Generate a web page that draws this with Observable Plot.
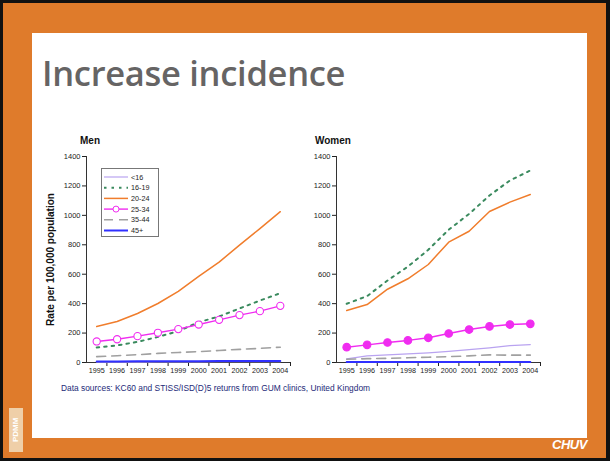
<!DOCTYPE html>
<html><head><meta charset="utf-8">
<script src="https://cdn.jsdelivr.net/npm/d3@7"></script>
<script src="https://cdn.jsdelivr.net/npm/@observablehq/plot@0.6"></script>
<style>
html,body{margin:0;padding:0;width:610px;height:461px;overflow:hidden;background:#111;}
#frame{position:absolute;left:3px;top:3px;width:603px;height:455px;background:#DF7B2B;}
#panel{position:absolute;left:32px;top:33px;width:555px;height:405px;background:#fff;}
#title{position:absolute;left:42px;top:52px;font-family:"Open Sans",Lato,sans-serif;font-weight:600;font-size:34.5px;letter-spacing:-0.3px;color:#666464;white-space:nowrap;line-height:1.2;}
.ctitle{position:absolute;font-family:"Liberation Sans",Arial,sans-serif;font-weight:700;font-size:10px;color:#111;}
.chart{position:absolute;top:130px;}
#caption{position:absolute;left:61px;top:383px;font-family:"Liberation Sans",Arial,sans-serif;font-size:8.4px;color:#1d2a78;white-space:nowrap;}
#pdmm{position:absolute;left:9px;top:408px;width:14px;height:44px;background:#efcfa8;font-family:"Liberation Sans",Arial,sans-serif;font-weight:700;font-size:8px;color:#fff;writing-mode:vertical-rl;transform:rotate(180deg);text-align:center;line-height:14px;}
#chuv{position:absolute;left:552px;top:437px;font-family:"Liberation Sans",Arial,sans-serif;font-weight:700;font-style:italic;font-size:13px;color:#fff;letter-spacing:-0.5px;}
#legend{position:absolute;left:101px;top:168px;}
</style></head>
<body>
<div id="frame"></div>
<div id="panel"></div>
<div id="title">Increase incidence</div>
<div class="ctitle" style="left:80px;top:135px">Men</div>
<div class="ctitle" style="left:315px;top:135px">Women</div>
<div id="men" class="chart" style="left:40px"></div>
<div id="women" class="chart" style="left:290px"></div>
<div id="legend"></div>
<div id="caption">Data sources: KC60 and STISS/ISD(D)5 returns from GUM clinics, United Kingdom</div>
<div id="pdmm">PDMM</div>
<div id="chuv">CHUV</div>
<script>
const years = [1995,1996,1997,1998,1999,2000,2001,2002,2003,2004];
const seriesNames = ["<16","16-19","20-24","25-34","35-44","45+"];
const yTicks = [0,200,400,600,800,1000,1200,1400];

const men_u16   = [3,3,3,4,4,4,5,5,5,5];
const men_16_19 = [102,116,140,174,213,274,313,367,421,471];
const men_20_24 = [245,279,333,401,483,585,682,798,910,1025];
const men_25_34 = [143,158,179,202,227,258,290,322,349,385];
const men_35_44 = [40,46,53,62,68,74,82,89,96,104];
const men_45    = [7,7,8,8,9,9,10,10,11,11];

const women_u16   = [25,45,52,58,65,75,87,100,115,122];
const women_16_19 = [399,451,557,652,766,902,1010,1135,1237,1305];
const women_20_24 = [353,394,498,569,666,818,892,1026,1090,1142];
const women_25_34 = [104,120,136,150,168,197,224,245,258,263];
const women_35_44 = [22,26,28,32,36,40,45,52,50,50];
const women_45    = [3,3,3,3,3,3,3,3,3,3];

const styles = {
  "<16":   {stroke:"#b9a3f0", strokeWidth:1.2},
  "16-19": {stroke:"#3a8a5e", strokeWidth:2, strokeDasharray:"2.5,5"},
  "20-24": {stroke:"#f07d2c", strokeWidth:1.5},
  "25-34": {stroke:"#f02cf0", strokeWidth:1.4},
  "35-44": {stroke:"#a0a0a0", strokeWidth:1.6, strokeDasharray:"9,6"},
  "45+":   {stroke:"#3030ff", strokeWidth:2}
};

function toRows(arrs){
  const rows = [];
  seriesNames.forEach((s,i)=>years.forEach((y,j)=>rows.push({series:s, year:y, value:arrs[i][j]})));
  return rows;
}
const menRows = toRows([men_u16,men_16_19,men_20_24,men_25_34,men_35_44,men_45]);
const womenRows = toRows([women_u16,women_16_19,women_20_24,women_25_34,women_35_44,women_45]);

const xDomain = [years[0]-0.5, years[years.length-1]+0.5];
const boundaries = years.map(y=>y+0.5);

function chart(rows, opts){
  const marks = [
    Plot.ruleX([xDomain[0]], {stroke:"#333", strokeWidth:1}),
    Plot.ruleY([0], {stroke:"#333", strokeWidth:1}),
    Plot.axisY({ticks:yTicks, tickSize:4, tickPadding:2, tickFormat:d=>String(d), label:null, fontSize:7.5}),
    Plot.axisX({ticks:boundaries, tickSize:4, tickFormat:()=>"", label:null}),
    Plot.axisX({ticks:years, tickSize:0, tickPadding:5, tickFormat:d=>String(d), label:null, fontSize:7.2}),
  ];
  if (opts.ylabel) marks.push(Plot.text([opts.ylabel], {frameAnchor:"left", textAnchor:"middle", lineAnchor:"middle", rotate:-90, dx:-36, fontWeight:"bold", fontSize:10, fill:"#111"}));
  for (const s of seriesNames){
    const d = rows.filter(r=>r.series===s);
    marks.push(Plot.line(d, {x:"year", y:"value", ...styles[s], strokeLinejoin:"round"}));
    if (s==="25-34"){
      marks.push(Plot.dot(d, {x:"year", y:"value", r: opts.filled?3.8:3.6, stroke:styles[s].stroke, strokeWidth:1.1, fill: opts.filled?styles[s].stroke:"white"}));
    }
  }
  return Plot.plot({
    width:260, height:250,
    marginLeft:46, marginRight:10, marginTop:26, marginBottom:18,
    style:{fontFamily:"'Liberation Sans',Arial,sans-serif", color:"#222", background:"transparent", overflow:"visible"},
    x:{domain:xDomain},
    y:{domain:[0,1400]},
    marks
  });
}
document.getElementById("men").appendChild(chart(menRows, {ylabel:"Rate per 100,000 population", filled:false}));
document.getElementById("women").appendChild(chart(womenRows, {filled:true}));

// legend
const lg = d3.select("#legend").append("svg").attr("width",58).attr("height",69);
lg.append("rect").attr("x",0.5).attr("y",0.5).attr("width",57).attr("height",68).attr("fill","white").attr("stroke","#777").attr("stroke-width",1);
seriesNames.forEach((s,i)=>{
  const y = 9 + i*10.7;
  const st = styles[s];
  lg.append("line").attr("x1",3).attr("x2",27).attr("y1",y).attr("y2",y)
    .attr("stroke",st.stroke).attr("stroke-width",st.strokeWidth).attr("stroke-dasharray",st.strokeDasharray||null);
  if (s==="25-34") lg.append("circle").attr("cx",15).attr("cy",y).attr("r",3).attr("fill","white").attr("stroke",st.stroke).attr("stroke-width",1);
  lg.append("text").attr("x",30).attr("y",y+2.6).text(s).attr("font-family","'Liberation Sans',Arial,sans-serif").attr("font-size",7.2).attr("fill","#222");
});
</script>
</body></html>
